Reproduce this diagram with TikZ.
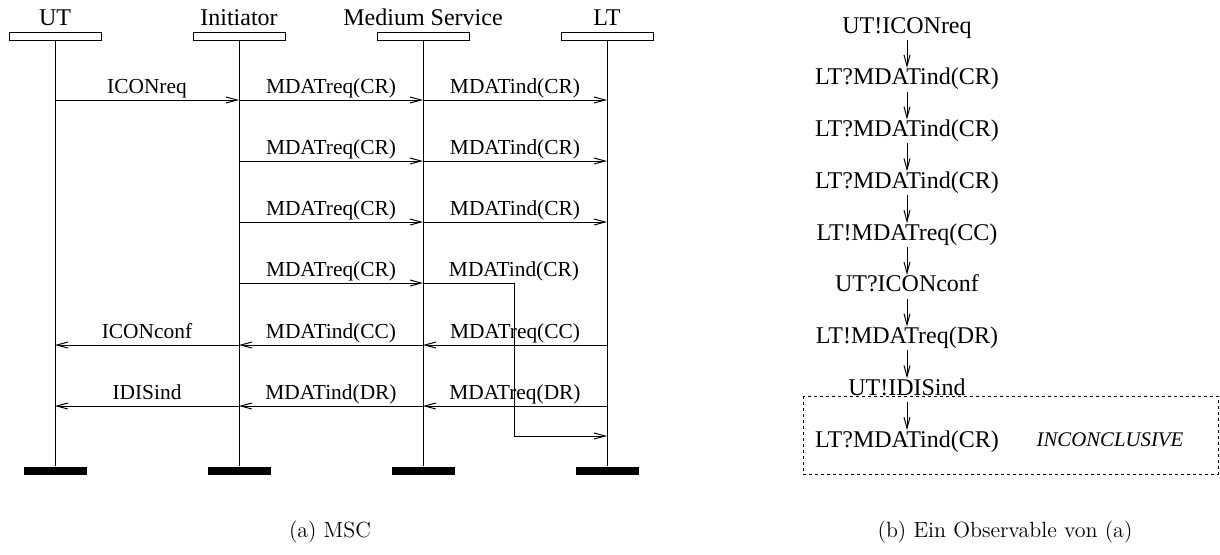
\documentclass[tikz,border=0pt]{standalone}
\usepackage{fontspec}
\newfontfamily\tms{Liberation Serif}
\usetikzlibrary{calc,positioning,arrows.meta}
\tikzset{
 inst/.style={rectangle, draw, fill=white, minimum width=46pt, minimum height=4pt, inner sep=0pt},
 instend/.style={rectangle, fill=black, minimum width=31.5pt, minimum height=4.25pt, inner sep=0pt},
 instname/.style={anchor=base, inner sep=0pt, font=\tms\fontsize{12}{14}\selectfont},
 msg/.style={anchor=base, inner sep=0pt, yshift=3.2pt, font=\tms\fontsize{10.7}{12}\selectfont},
 msgarrow/.style={-{Straight Barb[length=5.5pt,width=3pt]}},
 ev/.style={anchor=base, inner sep=1pt, text height=0.72em, text depth=0.22em, font=\tms\fontsize{12}{14}\selectfont},
 verdict/.style={anchor=base, inner sep=0pt, font=\tms\itshape\fontsize{10.4}{12}\selectfont},
 subcap/.style={anchor=base, inner sep=0pt, font=\fontsize{11}{13}\selectfont},
}
\begin{document}
\begin{tikzpicture}[x=0.5pt,y=-0.5pt,line width=0.5pt]
\useasboundingbox (0,0) rectangle (1220,554);
\foreach \n/\x/\t in {ut/55/UT, ini/239/Initiator, med/423/Medium Service, lt/607/LT}{
	\node[inst] (\n) at (\x,36) {};
	\node[instname] (\n-txt) at ($(\n.north)+(0,-6)$) {\t};
	\node[instend] (\n-end) at (\x,471) {};
	\draw (\n.south) -- (\n-end.north);
}
\foreach \i/\y in {1/100,2/161,3/222,4/283,5/345,6/406}
	\coordinate (r\i) at (0,\y);
\coordinate (knick) at (514,436);

\draw[msgarrow] (ut|-r1) -- node[msg]{ICONreq} (ini|-r1);
\foreach \i in {1,2,3}{
	\draw[msgarrow] (ini|-r\i) -- node[msg]{MDATreq(CR)} (med|-r\i);
	\draw[msgarrow] (med|-r\i) -- node[msg]{MDATind(CR)} (lt|-r\i);
}
\draw[msgarrow] (ini|-r4) -- node[msg]{MDATreq(CR)} (med|-r4);
\draw[msgarrow] (med|-r4) -| node[msg]{MDATind(CR)} (knick) -- (lt|-knick);
\foreach \i/\s/\u in {5/CC/ICONconf, 6/DR/IDISind}{
	\draw[msgarrow] (lt|-r\i) -- node[msg]{MDATreq(\s)} (med|-r\i);
	\draw[msgarrow] (med|-r\i) -- node[msg]{MDATind(\s)} (ini|-r\i);
	\draw[msgarrow] (ini|-r\i) -- node[msg]{\u} (ut|-r\i);
}

\foreach \i/\t in {1/UT!ICONreq, 2/LT?MDATind(CR), 3/LT?MDATind(CR), 4/LT?MDATind(CR),
	5/LT!MDATreq(CC), 6/UT?ICONconf, 7/LT!MDATreq(DR), 8/UT!IDISind, 9/LT?MDATind(CR)}
	\node[ev] (o\i) at (907,{33+51.75*(\i-1)}) {\t};
\foreach \i [evaluate=\i as \j using int(\i+1)] in {1,...,8}
	\draw[msgarrow] (o\i.south) -- (o\j.north);
\draw[dash pattern=on 1.5pt off 1.5pt] (803,396) rectangle (1218,474);
\node[verdict] (verd) at (1110,446) {INCONCLUSIVE};

\node[subcap] (capa) at (330,537) {(a) MSC};
\node[subcap] (capb) at (1005,537) {(b) Ein Observable von (a)};
\end{tikzpicture}
\end{document}
